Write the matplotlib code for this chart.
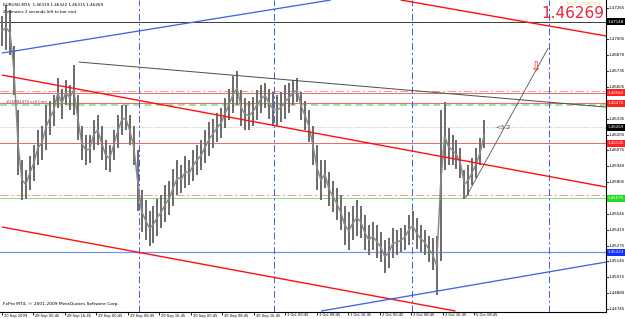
import numpy as np
import matplotlib
matplotlib.use("Agg")
import matplotlib.pyplot as plt
from matplotlib.patches import Rectangle
from matplotlib.transforms import blended_transform_factory
from matplotlib import font_manager

plt.rcParams['lines.scale_dashes'] = False
plt.rcParams['font.family'] = ['DejaVu Sans']

_names = {f.name for f in font_manager.fontManager.ttflist}
if 'Liberation Sans Narrow' in _names:
    NARROW, NSCALE = 'Liberation Sans Narrow', 1.38
else:
    NARROW, NSCALE = 'DejaVu Sans', 1.0

# ---------------- data ----------------
symbol_info = "EURUSD,M15  1.46319 1.46322 1.46315 1.46269"
timer_info = "2 minutes 2 seconds left to bar end"
copyright_txt = "FxPro MT4, \u00a9 2001-2009 MetaQuotes Software Corp."
order_txt = "#25084470 sell limit"
big_price = "1.46269"
signal_txt = "A:CEP+20MTBFE"
ratio_txt = "<3.2"

# price bars (one sample = 4 M15 bars)
highs = [1.4720, 1.4729, 1.4725, 1.4695, 1.4641, 1.4599, 1.4591, 1.4603, 1.4612, 1.4624,
         1.4628, 1.4645, 1.4649, 1.4654, 1.4668, 1.4659, 1.4666, 1.4662, 1.4679, 1.4654,
         1.4628, 1.4620, 1.4620, 1.4633, 1.4637, 1.4628, 1.4616, 1.4612, 1.4624, 1.4637,
         1.4645, 1.4645, 1.4637, 1.4628, 1.4608, 1.4574, 1.4566, 1.4557, 1.4561, 1.4567,
         1.4570, 1.4578, 1.4582, 1.4592, 1.4599, 1.4595, 1.4603, 1.4599, 1.4608, 1.4612,
         1.4616, 1.4624, 1.4631, 1.4634, 1.4639, 1.4643, 1.4651, 1.4659, 1.4670, 1.4674,
         1.4658, 1.4651, 1.4649, 1.4652, 1.4658, 1.4662, 1.4664, 1.4659, 1.4656, 1.4654,
         1.4656, 1.4662, 1.4664, 1.4666, 1.4668, 1.4656, 1.4649, 1.4641, 1.4628, 1.4612,
         1.4599, 1.4599, 1.4589, 1.4582, 1.4576, 1.4570, 1.4561, 1.4556, 1.4561, 1.4566,
         1.4561, 1.4553, 1.4545, 1.4547, 1.4545, 1.4539, 1.4532, 1.4534, 1.4542, 1.4541,
         1.4542, 1.4545, 1.4553, 1.4557, 1.4551, 1.4545, 1.4541, 1.4536, 1.4534, 1.4536,
         1.4641, 1.4648, 1.4626, 1.4620, 1.4616, 1.4609, 1.4591, 1.4595, 1.4601, 1.4609,
         1.4618, 1.4633]
lows = [1.4695, 1.4691, 1.4687, 1.4654, 1.4587, 1.4566, 1.4567, 1.4574, 1.4582, 1.4595,
        1.4599, 1.4608, 1.4620, 1.4628, 1.4643, 1.4634, 1.4645, 1.4641, 1.4637, 1.4616,
        1.4599, 1.4595, 1.4597, 1.4608, 1.4612, 1.4599, 1.4591, 1.4589, 1.4599, 1.4609,
        1.4620, 1.4624, 1.4612, 1.4595, 1.4557, 1.4539, 1.4532, 1.4527, 1.4530, 1.4536,
        1.4542, 1.4547, 1.4553, 1.4561, 1.4570, 1.4572, 1.4576, 1.4578, 1.4582, 1.4587,
        1.4591, 1.4597, 1.4603, 1.4609, 1.4614, 1.4618, 1.4626, 1.4633, 1.4639, 1.4645,
        1.4628, 1.4624, 1.4624, 1.4628, 1.4633, 1.4639, 1.4643, 1.4634, 1.4628, 1.4628,
        1.4631, 1.4634, 1.4639, 1.4645, 1.4648, 1.4633, 1.4624, 1.4614, 1.4595, 1.4574,
        1.4566, 1.4576, 1.4561, 1.4556, 1.4549, 1.4541, 1.4528, 1.4524, 1.4532, 1.4536,
        1.4534, 1.4524, 1.4520, 1.4524, 1.4517, 1.4514, 1.4505, 1.4509, 1.4517, 1.4520,
        1.4522, 1.4524, 1.4528, 1.4532, 1.4525, 1.4522, 1.4520, 1.4514, 1.4507, 1.4486,
        1.4515, 1.4591, 1.4595, 1.4595, 1.4592, 1.4584, 1.4567, 1.4570, 1.4578, 1.4584,
        1.4595, 1.4609]

x_tick_pos = [0, 7.9, 15.8, 23.7, 31.6, 39.5, 47.4, 55.3, 63.2, 71.1, 79.0, 86.9,
              94.8, 102.7, 110.6, 118.5]
x_tick_labels = ["20 Sep 2009", "28 Sep 00:45", "28 Sep 16:45", "29 Sep 00:45",
                 "29 Sep 08:45", "29 Sep 16:45", "30 Sep 00:45", "30 Sep 08:45",
                 "30 Sep 16:45", "1 Oct 00:45", "1 Oct 08:45", "1 Oct 16:45",
                 "2 Oct 00:45", "2 Oct 08:45", "2 Oct 16:45", "5 Oct 08:45"]
y_tick_labels = ["1.47265", "1.47135", "1.47005", "1.46870", "1.46735", "1.46605",
                 "1.46470", "1.46335", "1.46205", "1.46075", "1.45940", "1.45805",
                 "1.45675", "1.45545", "1.45410", "1.45275", "1.45145", "1.45015",
                 "1.44880", "1.44745"]

price_min, price_max = 1.44721, 1.47332
x_max = 151.5

# horizontal levels
level_black = 1.47148
level_salmon_hi = 1.46570
level_red_hi = 1.46556
level_red_mid = 1.46470
level_green_dash = 1.46453
level_current = 1.46269
level_red_lo = 1.46135
level_salmon_lo = 1.45700
level_green = 1.45675
level_blue = 1.45223

# vertical period separators (bar positions)
vlines_pos = [34.25, 68.25, 102.75, 137.25]

# trend lines: (x0, p0, x1, p1)
blue_top = (0, 1.46888, 82.5, 1.47332)
red_top = (100, 1.47332, 151.5, 1.47031)
red_mid = (0, 1.46704, 151.5, 1.45767)
red_bot = (0, 1.45432, 113.75, 1.44729)
blue_bot = (80, 1.44729, 151.5, 1.45139)
gray_line = (19.25, 1.46813, 151.5, 1.46436)
target_line = (116.25, 1.45675, 137, 1.46930)
arrow_pos = (134, 1.46763)

# ---------------- figure ----------------
W, H = 625, 319
PR, PB = 606, 312
fig = plt.figure(figsize=(W / 100, H / 100), dpi=100)
ax = fig.add_axes([0, 1 - PB / H, PR / W, PB / H])
ax.set_xlim(-0.5, x_max)
ax.set_ylim(price_min, price_max)
for s in ax.spines.values():
    s.set_color('black')
    s.set_linewidth(0.8)
ax.spines['top'].set_visible(False)
ax.spines['left'].set_visible(False)

PX = 0.72  # points per pixel

# price bars: thin high-low strokes with a connecting close path
idx = np.arange(len(highs))
ax.vlines(idx, lows, highs, color='#6e6e6e', linewidth=2.0 * PX, zorder=3)
mids = (np.array(highs) + np.array(lows)) / 2
ax.plot(idx, mids, color='#8a8a8a', lw=1.5 * PX, zorder=3)

# horizontal lines
ax.axhline(level_black, color='#404040', lw=1 * PX, zorder=2)
ax.axhline(level_salmon_hi, color='#f5a08a', lw=1 * PX, ls=(0, (6, 2, 1.5, 2)), zorder=2)
ax.axhline(level_red_hi, color='#f06a6a', lw=1 * PX, zorder=2)
ax.axhline(level_red_mid, color='#f06a6a', lw=1 * PX, zorder=2)
ax.axhline(level_green_dash, color='#a8e0a0', lw=2 * PX, ls=(0, (5, 3)), zorder=2)
ax.axhline(level_current, color='#c8c8d8', lw=1 * PX, ls=(0, (1, 1)), zorder=2)
ax.axhline(level_red_lo, color='#f06a6a', lw=1 * PX, zorder=2)
ax.axhline(level_salmon_lo, color='#f5a08a', lw=1 * PX, ls=(0, (6, 2, 1.5, 2)), zorder=2)
ax.axhline(level_green, color='#80e080', lw=1 * PX, zorder=2)
ax.axhline(level_blue, color='#7090ff', lw=1.2 * PX, zorder=2)

for xv in vlines_pos:
    ax.axvline(xv, color='#4060f0', lw=1 * PX, ls=(0, (5, 2, 1.5, 2)), zorder=2)

def tline(t, color, lw):
    ax.plot([t[0], t[2]], [t[1], t[3]], color=color, lw=lw * PX, zorder=4,
            solid_capstyle='butt')

tline(blue_top, '#3f63e6', 1.3)
tline(red_top, '#ff1010', 1.4)
tline(red_mid, '#ff1010', 1.4)
tline(red_bot, '#ff1010', 1.4)
tline(blue_bot, '#3f63e6', 1.3)
tline(gray_line, '#505050', 1.0)
tline(target_line, '#505050', 0.8)

ax.text(arrow_pos[0], arrow_pos[1], '\u21e9', color='#ff2020', fontsize=9,
        ha='center', va='center', zorder=6)
ax.text(123.75, level_current, ratio_txt, color='#404040', fontsize=4.5,
        ha='left', va='center', zorder=6)
ax.text(1.0, 1.46478, order_txt, color='#505050', fontsize=2.8 * NSCALE,
        family=NARROW, ha='left', va='center', zorder=6)

# x ticks
ax.set_xticks(x_tick_pos)
ax.set_xticklabels([])
ax.tick_params(axis='x', length=2, width=0.6, direction='out', color='black')
ax.set_yticks([])
tx = blended_transform_factory(ax.transData, fig.transFigure)
for xp, lab in zip(x_tick_pos, x_tick_labels):
    ax.text(xp + 0.4, 1 - 315.5 / H, lab, transform=tx, fontsize=2.6 * NSCALE,
            family=NARROW, ha='left', va='center', color='black', clip_on=False)

# y labels on the right
ty = blended_transform_factory(fig.transFigure, ax.transData)
YFS = 2.85 * NSCALE
for lab in y_tick_labels:
    v = float(lab)
    ax.plot([PR / W, 608 / W], [v, v], transform=ty, color='black', lw=0.6,
            clip_on=False)
    ax.text(608.5 / W, v, lab, transform=ty, fontsize=YFS, family=NARROW,
            ha='left', va='center', color='black', clip_on=False)

# price boxes
boxes = [(level_black, '#000000', '1.47148'),
         (level_red_hi, '#ff2020', '1.46562'),
         (level_red_mid, '#ff2020', '1.46470'),
         (level_current, '#000000', '1.46269'),
         (level_red_lo, '#ff2020', '1.46135'),
         (level_green, '#22dd22', '1.45675'),
         (level_blue, '#1030ff', '1.45223')]
bh = 7 * (price_max - price_min) / PB
for v, c, lab in boxes:
    r = Rectangle((606.5 / W, v - bh / 2), 18.5 / W, bh, transform=ty,
                  facecolor=c, edgecolor='none', clip_on=False, zorder=8)
    ax.add_patch(r)
    ax.text(608 / W, v, lab, transform=ty, fontsize=YFS, family=NARROW,
            ha='left', va='center', color='white', clip_on=False, zorder=9)

# header texts
fig.text(3 / W, 1 - 4.5 / H, symbol_info, fontsize=3.0, ha='left', va='center')
fig.text(3 / W, 1 - 12 / H, timer_info, fontsize=3.0, ha='left', va='center')
fig.text(3 / W, 1 - 304 / H, copyright_txt, fontsize=3.2, ha='left', va='center')
fig.text(604 / W, 1 - 13.5 / H, big_price, fontsize=11, ha='right', va='center',
         color='#e6243c')
fig.text(602 / W, 1 - 4 / H, signal_txt, fontsize=3.2, ha='right', va='center',
         color='#e8e070')

fig.savefig('out.png', dpi=100, facecolor='white')
